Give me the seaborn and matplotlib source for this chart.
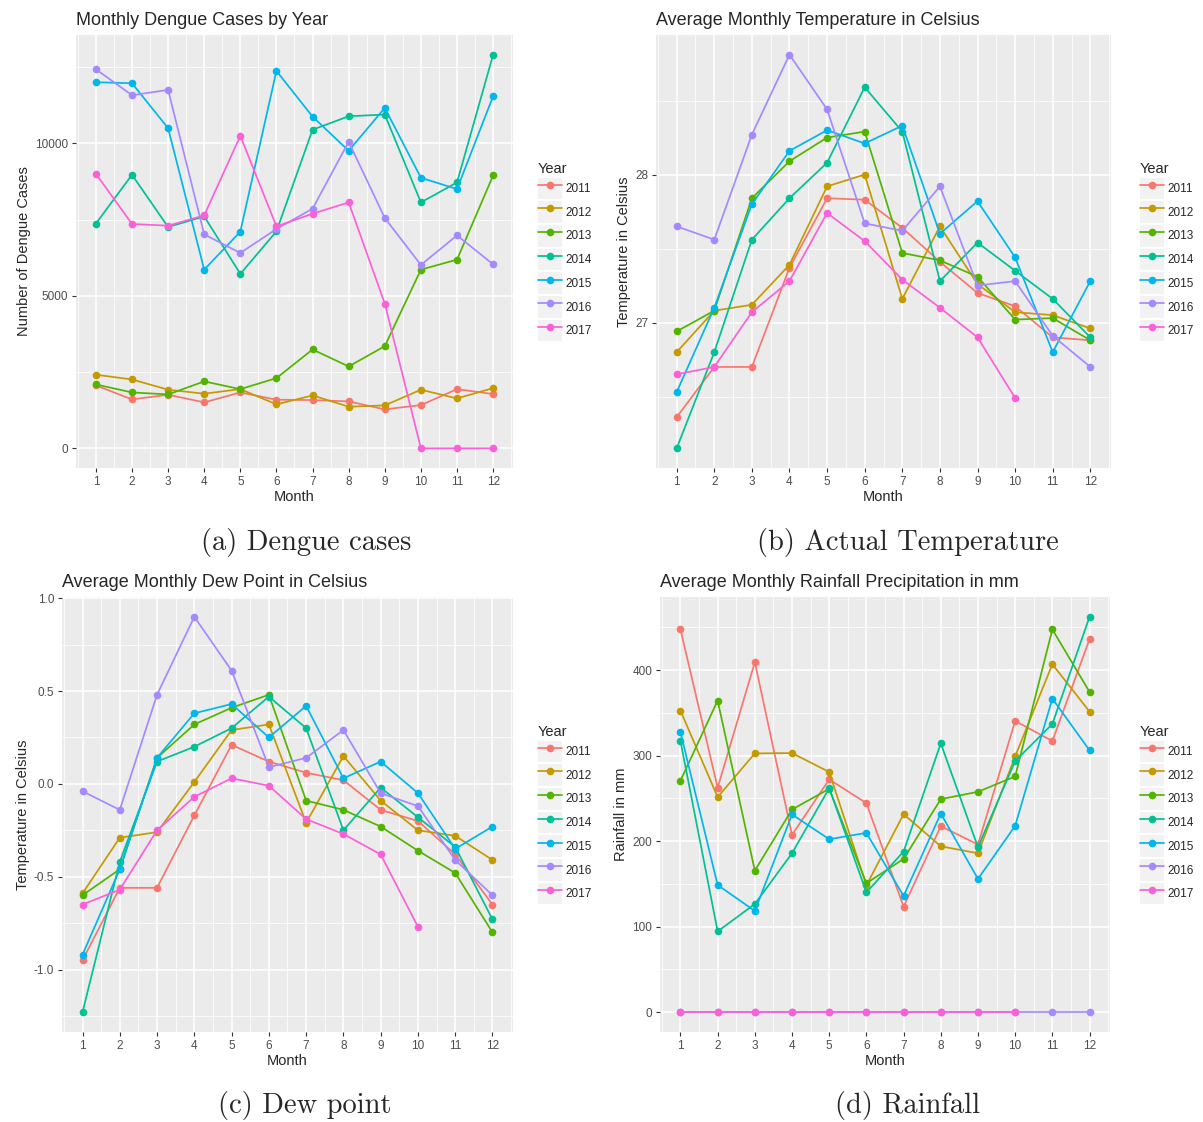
import numpy as np
import pandas as pd
import matplotlib
matplotlib.use('Agg')
from matplotlib import pyplot as plt
from matplotlib.lines import Line2D
from matplotlib.patches import Rectangle
from matplotlib.legend_handler import HandlerLine2D
from matplotlib.ticker import FixedLocator, FuncFormatter
import seaborn as sns

months = list(range(1, 13))
years = ['2011', '2012', '2013', '2014', '2015', '2016', '2017']
colors = ['#F8766D', '#C49A00', '#53B400', '#00C094', '#00B6EB', '#A58AFF', '#FB61D7']
nan = np.nan

# (a) dengue cases per month, one row per year
cases = [
    [2063, 1604, 1758, 1506, 1833, 1594, 1582, 1539, 1277, 1418, 1941, 1778],
    [2413, 2259, 1922, 1791, 1941, 1441, 1735, 1365, 1408, 1922, 1637, 1975],
    [2095, 1833, 1768, 2194, 1941, 2302, 3241, 2685, 3350, 5860, 6188, 8948],
    [7367, 8971, 7258, 7606, 5720, 7115, 10448, 10890, 10945, 8064, 8720, 12909],
    [12005, 11973, 10500, 5860, 7105, 12376, 10879, 9757, 11164, 8873, 8502, 11548],
    [12431, 11580, 11754, 7016, 6407, 7193, 7858, 10052, 7553, 6014, 6983, 6034],
    [9004, 7357, 7301, 7638, 10248, 7278, 7694, 8064, 4747, 0, 0, 0],
]

# (b) actual temperature
temperature = [
    [26.36, 26.70, 26.70, 27.37, 27.84, 27.83, 27.64, 27.41, 27.20, 27.11, 26.90, 26.88],
    [26.80, 27.08, 27.12, 27.39, 27.92, 28.00, 27.16, 27.65, 27.26, 27.07, 27.05, 26.96],
    [26.94, 27.08, 27.84, 28.09, 28.25, 28.29, 27.47, 27.42, 27.31, 27.02, 27.03, 26.88],
    [26.15, 26.80, 27.56, 27.84, 28.08, 28.59, 28.29, 27.28, 27.54, 27.35, 27.16, 26.90],
    [26.53, 27.10, 27.80, 28.16, 28.30, 28.21, 28.33, 27.60, 27.82, 27.44, 26.80, 27.28],
    [27.65, 27.56, 28.27, 28.81, 28.44, 27.67, 27.62, 27.92, 27.25, 27.28, 26.91, 26.70],
    [26.65, 26.70, 27.07, 27.28, 27.74, 27.55, 27.29, 27.10, 26.90, 26.49, nan, nan],
]

# (c) dew point
dew_point = [
    [-0.95, -0.56, -0.56, -0.17, 0.21, 0.12, 0.06, 0.02, -0.14, -0.20, -0.38, -0.65],
    [-0.59, -0.29, -0.26, 0.01, 0.29, 0.32, -0.21, 0.15, -0.09, -0.25, -0.28, -0.41],
    [-0.60, -0.46, 0.14, 0.32, 0.41, 0.48, -0.09, -0.14, -0.23, -0.36, -0.48, -0.80],
    [-1.23, -0.42, 0.12, 0.20, 0.30, 0.47, 0.30, -0.25, -0.02, -0.18, -0.34, -0.73],
    [-0.92, -0.46, 0.14, 0.38, 0.43, 0.25, 0.42, 0.03, 0.12, -0.05, -0.35, -0.23],
    [-0.04, -0.14, 0.48, 0.90, 0.61, 0.09, 0.14, 0.29, -0.05, -0.12, -0.41, -0.60],
    [-0.65, -0.57, -0.25, -0.07, 0.03, -0.01, -0.19, -0.27, -0.38, -0.77, nan, nan],
]

# (d) rainfall
rainfall = [
    [447.7, 262.5, 409.4, 207.4, 272.3, 244.5, 123.4, 217.6, 196.1, 340.6, 317.2, 436.3],
    [352.7, 251.6, 302.7, 303.1, 280.9, 148.4, 231.6, 194.1, 185.9, 299.2, 407.0, 351.6],
    [270.7, 364.5, 165.6, 237.1, 261.3, 150.8, 179.3, 249.2, 257.8, 275.8, 447.7, 374.6],
    [317.2, 94.5, 126.6, 185.9, 262.1, 140.2, 187.9, 314.5, 193.0, 293.8, 337.1, 462.5],
    [327.7, 148.8, 118.4, 231.3, 202.3, 209.8, 135.9, 232.4, 155.9, 218.0, 366.8, 306.3],
    [0, 0, 0, 0, 0, 0, 0, 0, 0, 0, 0, 0],
    [0, 0, 0, 0, 0, 0, 0, 0, 0, 0, nan, nan],
]


def to_long(rows, col):
    recs = []
    for y, vals in zip(years, rows):
        for m, v in zip(months, vals):
            recs.append({'Month': m, 'Year': y, col: v})
    return pd.DataFrame(recs).dropna()


class KeyHandler(HandlerLine2D):
    # legend key with the grey ggplot-like square behind it
    def create_artists(self, legend, orig_handle, xdescent, ydescent, width, height, fontsize, trans):
        arts = super().create_artists(legend, orig_handle, xdescent, ydescent, width, height,
                                      fontsize, trans)
        box = Rectangle((-xdescent, -ydescent), width, height, facecolor='#F2F2F2',
                        edgecolor='none', transform=trans)
        return [box] + list(arts)


sns.set_theme(style='darkgrid', rc={
    'axes.facecolor': '#EBEBEB',
    'axes.edgecolor': '#EBEBEB',
    'grid.color': 'white',
    'xtick.bottom': True,
    'ytick.left': True,
    'xtick.major.size': 3,
    'ytick.major.size': 3,
    'xtick.major.width': 0.8,
    'ytick.major.width': 0.8,
    'xtick.color': '#333333',
    'ytick.color': '#333333',
    'xtick.labelcolor': '#4D4D4D',
    'ytick.labelcolor': '#4D4D4D',
    'xtick.major.pad': 2.5,
    'ytick.major.pad': 2.5,
    'axes.unicode_minus': False,
})
plt.rcParams['font.family'] = ['Liberation Sans', 'DejaVu Sans']

W, H = 1203, 1122
fig = plt.figure(figsize=(W / 100, H / 100), dpi=100)


def panel(rect, rows, col, title, ylabel, majors, minors, fmt, legend_x, caption, cap_xy):
    ax = fig.add_axes([rect[0] / W, 1 - rect[3] / H, (rect[2] - rect[0]) / W, (rect[3] - rect[1]) / H])
    df = to_long(rows, col)
    sns.lineplot(data=df, x='Month', y=col, hue='Year', palette=colors, marker='o',
                 markersize=5.5, markeredgewidth=0, linewidth=1.25, estimator=None,
                 legend=False, ax=ax)
    ax.xaxis.set_major_locator(FixedLocator(months))
    ax.xaxis.set_minor_locator(FixedLocator([m - 0.5 for m in months] + [12.5]))
    ax.yaxis.set_major_locator(FixedLocator(majors))
    ax.yaxis.set_minor_locator(FixedLocator(minors))
    ax.yaxis.set_major_formatter(FuncFormatter(lambda v, p: fmt.format(v)))
    ax.tick_params(which='minor', length=0)
    ax.tick_params(which='major', labelsize=8.5)
    ax.grid(which='major', color='white', linewidth=1.1)
    ax.grid(which='minor', color='white', linewidth=0.55)
    for s in ax.spines.values():
        s.set_visible(False)
    ax.set_title(title, loc='left', fontsize=13, pad=7)
    ax.set_xlabel('Month', fontsize=10.5, labelpad=2)
    ax.set_ylabel(ylabel, fontsize=10.5, labelpad=3)

    handles = [Line2D([], [], color=c, marker='o', markersize=5.5, markeredgewidth=0, linewidth=1.25)
               for c in colors]
    cy = 1 - (rect[1] + rect[3]) / 2 / H
    ax.legend(handles, years, title='Year', loc='center left', bbox_to_anchor=(legend_x / W, cy),
              bbox_transform=fig.transFigure, frameon=False, alignment='left', fontsize=8.5,
              title_fontsize=10.5, handlelength=2.0, handleheight=2.45, handletextpad=0.3,
              labelspacing=0.17, borderpad=0, borderaxespad=0,
              handler_map={Line2D: KeyHandler()})
    fig.text(cap_xy[0] / W, 1 - cap_xy[1] / H, caption, ha='center', va='center',
             fontsize=20.5, family='cmr10')
    return ax


panel((76, 35, 513, 468), cases, 'Cases', 'Monthly Dengue Cases by Year', 'Number of Dengue Cases',
      [0, 5000, 10000], [2500, 7500, 12500], '{:g}', 538, '(a) Dengue cases', (306, 542))
panel((656, 35, 1111, 468), temperature, 'Temp', 'Average Monthly Temperature in Celsius',
      'Temperature in Celsius', [27, 28], [26.5, 27.5, 28.5], '{:g}', 1140,
      '(b) Actual Temperature', (908, 542))
panel((62, 597, 513, 1032), dew_point, 'Dew', 'Average Monthly Dew Point in Celsius',
      'Temperature in Celsius', [-1.0, -0.5, 0.0, 0.5, 1.0], [-1.25, -0.75, -0.25, 0.25, 0.75],
      '{:.1f}', 538, '(c) Dew point', (305, 1105))
panel((660, 597, 1110, 1032), rainfall, 'Rain', 'Average Monthly Rainfall Precipitation in mm',
      'Rainfall in mm', [0, 100, 200, 300, 400], [50, 150, 250, 350, 450], '{:g}', 1140,
      '(d) Rainfall', (908, 1105))

fig.savefig('out.png', dpi=100)
